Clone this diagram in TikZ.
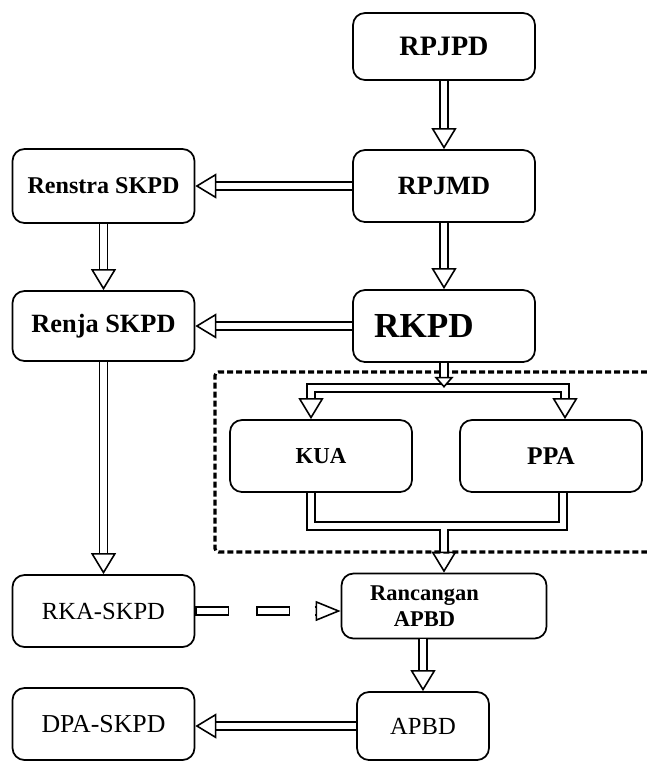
\documentclass[tikz,border=0pt]{standalone}
\usepackage{fontspec}
\setmainfont{Liberation Serif}
\usetikzlibrary{arrows.meta}
\tikzstyle{planbox} = [rectangle, rounded corners=0.24cm, minimum width=3.64cm, minimum height=1.44cm, text centered, draw=black, line width=1pt, font=\bfseries\fontsize{15}{17}\selectfont]
\tikzstyle{plainbox} = [planbox, font=\fontsize{14}{16}\selectfont]
\tikzstyle{dblline} = [draw=black, line width=0.9pt, double=white, double distance=3.5pt]
\tikzstyle{dblarrow} = [dblline, >={Triangle[open, length=0.42cm, width=0.5cm]}, ->]
\tikzstyle{dashouter} = [draw=black, line width=5.3pt, dash pattern=on 19.35pt off 15.37pt]
\tikzstyle{dashinner} = [draw=white, line width=3.5pt, dash pattern=on 17.55pt off 17.17pt]
\tikzstyle{groupframe} = [line width=1.8pt, dash pattern=on 0.12cm off 0.06cm, rounded corners=2pt]

\begin{document}
\begin{tikzpicture}[node distance=2.8cm]
  \useasboundingbox (0,0) rectangle (12.94,-15.26);
  \node (rpjpd)[planbox, minimum height=1.34cm, font=\bfseries\fontsize{16}{18}\selectfont] at (8.88,-0.93){RPJPD};
  \node (rpjmd)[planbox, below of=rpjpd, node distance=2.79cm]{RPJMD};
  \node (rkpd)[planbox, below of=rpjmd, font=\bfseries\fontsize{20}{22}\selectfont]{RKPD\hspace*{0.8cm}};
  \node (renstra)[planbox, left of=rpjmd, node distance=6.81cm, minimum height=1.48cm, font=\bfseries\fontsize{13.7}{16}\selectfont]{Renstra SKPD};
  \node (renja)[planbox, below of=renstra, minimum height=1.4cm]{Renja SKPD};
  \node (rka)[plainbox, below of=renja, node distance=5.7cm]{RKA-SKPD};
  \node (dpa)[plainbox, below of=rka, node distance=2.26cm, font=\fontsize{14.7}{16}\selectfont]{DPA-SKPD};
  \node (kua)[planbox, below of=rkpd, node distance=2.6cm, xshift=-2.46cm, font=\bfseries\fontsize{13}{15}\selectfont]{KUA};
  \node (ppa)[planbox, right of=kua, node distance=4.6cm, font=\bfseries\fontsize{14.5}{16}\selectfont]{PPA};
  \node (rancangan)[planbox, below of=rkpd, node distance=5.6cm, minimum width=4.1cm, minimum height=1.3cm, align=center, font=\bfseries\fontsize{12.8}{14.5}\selectfont]{Rancangan\hspace*{0.78cm}\\APBD\hspace*{0.78cm}};
  \node (apbd)[plainbox, below of=rancangan, node distance=2.4cm, xshift=-0.42cm, minimum width=2.64cm, minimum height=1.36cm]{APBD};

  % dotted frame round KUA and PPA
  \draw[groupframe] (12.94,-7.44) -- (4.3,-7.44) -- (4.3,-11.04) -- (12.94,-11.04);

  \draw[dblarrow] (rpjpd) -- (rpjmd);
  \draw[dblarrow] (rpjmd) -- (renstra);
  \draw[dblarrow] (renstra) -- (renja);
  \draw[dblarrow] (rpjmd) -- (rkpd);
  \draw[dblarrow] (rkpd) -- (renja);
  \draw[dblarrow] (renja) -- (rka);

  % split to KUA and PPA
  \coordinate (split) at ([yshift=-0.5cm]rkpd.south);
  \draw[dblarrow, <->] ([xshift=-0.2cm]kua.north) |- (split) -| ([xshift=0.28cm]ppa.north);
  \draw[dblline, -{Triangle[open, fill=white, length=0.22cm, width=0.38cm]}] (rkpd) -- (split);

  % merge into Rancangan APBD
  \coordinate (merge) at ([yshift=0.93cm]rancangan.north);
  \draw[dblline] ([xshift=-0.2cm]kua.south) |- (merge) -| ([xshift=0.24cm]ppa.south);
  \draw[dblarrow] ([yshift=-1.8pt]merge) -- (rancangan);

  % dashed link RKA-SKPD to Rancangan APBD
  \coordinate (rkaend) at (rka -| rancangan.west);
  \draw[dashouter] (rka) -- ([xshift=-0.54cm]rkaend);
  \draw[dashinner] ([xshift=0.9pt]rka.east) -- ([xshift=-0.54cm]rkaend);
  \draw[dblline, -{Triangle[open, length=0.5cm, width=0.4cm]}] ([xshift=-0.52cm]rkaend) -- (rkaend);

  \draw[dblarrow] (rancangan.south -| apbd.north) -- (apbd);
  \draw[dblarrow] (apbd) -- (apbd -| dpa.east);
\end{tikzpicture}
\end{document}
